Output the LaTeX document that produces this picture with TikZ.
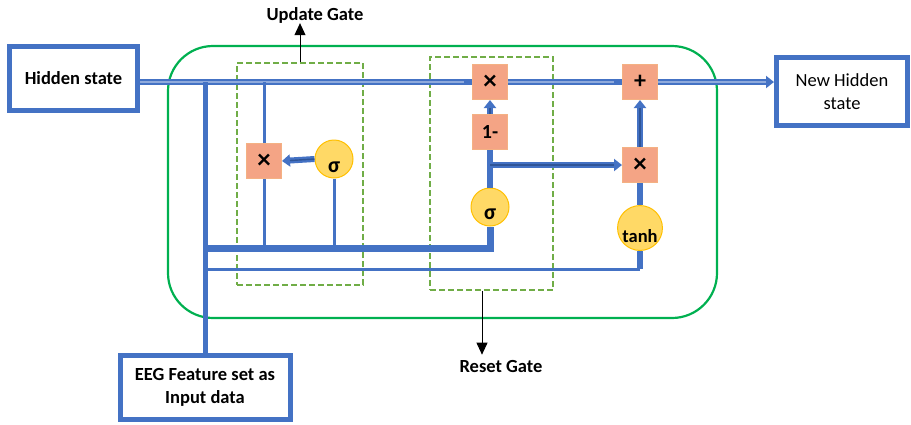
\documentclass[tikz,border=0pt]{standalone}
\usepackage{fontspec}
\setmainfont{Carlito}
\usetikzlibrary{arrows.meta}

\definecolor{lineblue}{HTML}{4472C4}
\definecolor{lightblue}{HTML}{8FAADC}
\definecolor{darkblue}{HTML}{2F5597}
\definecolor{cellgreen}{HTML}{00B050}
\definecolor{gategreen}{HTML}{70AD47}
\definecolor{opfill}{HTML}{F4A485}
\definecolor{opedge}{HTML}{F4B183}
\definecolor{actfill}{HTML}{FFD966}
\definecolor{actedge}{HTML}{FFC000}

\begin{document}
\begin{tikzpicture}[x=1pt, y=-1pt, >=stealth,
    font=\fontsize{18.5}{23}\selectfont,
    frame/.style={draw=lineblue, line width=5pt, fill=white, align=center},
    gatebox/.style={draw=gategreen, dashed, dash pattern=on 6pt off 3pt, line width=1.8pt},
    opbox/.style={draw=opedge, fill=opfill, line width=1pt, minimum size=35pt, inner sep=0pt, font=\fontsize{20}{22}\selectfont\bfseries},
    times/.style={opbox, font=\fontsize{27}{28}\selectfont\bfseries},
    act/.style={circle, draw=actedge, fill=actfill, line width=1pt, minimum size=38pt, inner sep=0pt, text height=26pt, text depth=0pt, font=\fontsize{22}{24}\selectfont\bfseries},
    wire/.style={draw=lineblue, line width=3pt},
    trunkw/.style={draw=lineblue, line width=5pt},
    bus/.style={draw=lineblue, line width=7pt},
    pipe/.style={draw=lineblue, line width=5.5pt, postaction={draw=lightblue, line width=1.4pt, -, shorten >=8pt}},
    flow/.style={draw=lineblue, line width=6pt, postaction={draw=darkblue, line width=1.4pt, -, shorten >=8pt}},
    tip/.style={-{Triangle[length=8pt,width=12pt]}},
    callout/.style={->, line width=0.9pt, >={Triangle[length=12pt,width=11pt]}}]
    \useasboundingbox (0,0) rectangle (911,424);

    % GRU cell outline and the two gates
    \draw[cellgreen, line width=2.2pt, rounded corners=45pt] (168,46) rectangle (717,318);
    \node[gatebox, minimum width=126pt, minimum height=222pt] (ugate) at (300,174) {};
    \node[gatebox, minimum width=123pt, minimum height=233pt] (rgate) at (491.5,173.5) {};

    % Gate labels
    \node[font=\fontsize{18.5}{20}\selectfont\bfseries, inner sep=0pt] (ulabel) at (315,15) {Update Gate};
    \node[font=\fontsize{18.5}{20}\selectfont\bfseries, inner sep=0pt] (rlabel) at (501,366) {Reset Gate};
    \draw[callout] (ugate.north) -- (ugate.north |- ulabel.south);
    \coordinate (rfoot) at ([xshift=-9.5pt]rgate.south);
    \draw[callout] (rfoot) -- ([yshift=5pt]rfoot |- rlabel.north);

    % Input and output boxes
    \node[frame, minimum width=128pt, minimum height=64pt] (hidden) at (73.5,78.5) {\bfseries Hidden state};
    \node[frame, minimum width=131pt, minimum height=68pt] (newh) at (842,91.5) {New Hidden\\state};
    \node[frame, minimum width=170pt, minimum height=64pt] (eeg) at (205,387.5) {\bfseries EEG Feature set as\\\bfseries Input data};

    % Pointwise operations
    \node[times] (ux) at (264,161) {×};
    \node[act] (usig) at (334,159) {σ};
    \node[times] (rx) at (490,82) {×};
    \node[opbox] (one) at (490,132) {1-};
    \node[act, text height=24pt] (rsig) at (490,207) {σ};
    \node[opbox, font=\fontsize{24}{26}\selectfont\bfseries] (plus) at (640,82) {+};
    \node[times] (hx) at (640,165) {×};
    \node[act, text height=28pt, font=\fontsize{18.5}{20}\selectfont\bfseries] (tanh) at (640,228) {tanh};

    % Junctions on the hidden state line and the input buses
    \coordinate (trunk) at (205,82);
    \coordinate (busA) at (205,248);
    \coordinate (busB) at (205,269);

    % Hidden state line through the cell
    \draw[pipe, postaction={shorten >=0pt}] (hidden.east |- trunk) -- (rx.west);
    \draw[pipe, postaction={shorten >=0pt}] (rx.east) -- (plus.west);
    \draw[pipe, tip] (plus.east) -- (newh.west |- plus.east);

    % Input trunk and buses
    \draw[trunkw] (trunk) -- (eeg.north);
    \draw[bus] (busA) -| (rsig.south);
    \draw[wire] (busB) -- (tanh.south |- busB);
    \draw[draw=lineblue, line width=6pt] (tanh.south) -- (tanh.south |- busB);

    % Update gate wiring
    \draw[wire] (ux.north) -- (ux.north |- trunk);
    \draw[wire] (ux.south) -- (ux.south |- busA);
    \draw[wire] (usig.south) -- (usig.south |- busA);
    \draw[flow, tip] (usig.west) -- (ux.east);

    % Reset gate wiring
    \draw[draw=lineblue, line width=6pt] (rsig.north) -- (one.south);
    \draw[flow, tip] (one.north) -- (rx.south);
    \draw[flow, tip] (one.south |- hx.west) -- (hx.west);

    % Candidate state
    \draw[draw=lineblue, line width=6pt] (tanh.north) -- (hx.south);
    \draw[flow, tip] (hx.north) -- (plus.south);
\end{tikzpicture}
\end{document}
